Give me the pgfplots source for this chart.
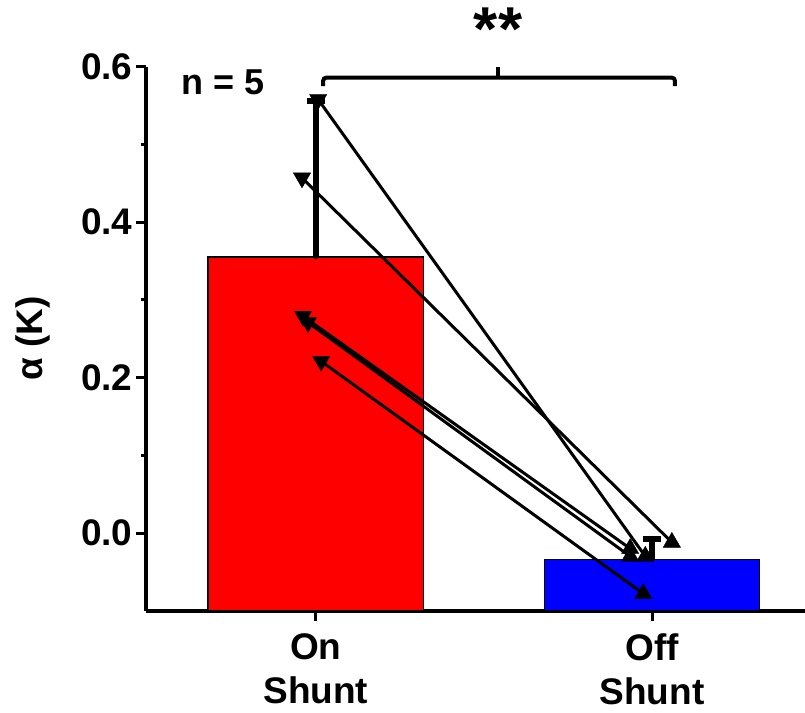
\documentclass[border=0pt]{standalone}
\usepackage{fontspec}
\setmainfont{Liberation Sans}
\usepackage{pgfplots}
\pgfplotsset{compat=1.18}
\begin{document}
\begin{tikzpicture}
\begin{axis}[
  name=ax,
  scale only axis,
  width=659bp, height=543.9bp,
  xmin=-0.505, xmax=1.455,
  ymin=-0.1, ymax=0.6,
  axis lines*=left,
  axis line style={line width=4bp, -},
  clip=false,
  xtick={0,1},
  xticklabels={On\\Shunt, Off\\Shunt},
  xticklabel style={align=center, yshift=-9bp, font=\fontsize{37bp}{44bp}\selectfont\bfseries},
  ytick={0,0.2,0.4,0.6},
  minor ytick={0.1,0.3,0.5},
  yticklabel style={font=\fontsize{37bp}{42bp}\selectfont\bfseries, /pgf/number format/.cd, fixed, fixed zerofill, precision=1, assume math mode=true},
  tick align=outside,
  major tick length=10bp,
  minor tick length=5bp,
  every tick/.style={line width=3bp, black},
  ylabel={α (K)},
  ylabel style={font=\fontsize{37bp}{42bp}\selectfont\bfseries, at={(axis description cs:-0.1715,0.5)}, anchor=center},
]
% bars
\addplot[fill=red, draw=black, line width=1.5bp] coordinates {(-0.32,-0.1) (-0.32,0.355) (0.32,0.355) (0.32,-0.1)} -- cycle;
\addplot[fill=blue, draw=black, line width=1.5bp] coordinates {(0.68,-0.1) (0.68,-0.034) (1.32,-0.034) (1.32,-0.1)} -- cycle;
% paired lines
\addplot[black, line width=3bp] coordinates {(0.007,0.558) (0.980,-0.030)};
\addplot[black, line width=3bp] coordinates {(-0.041,0.457) (1.059,-0.012)};
\addplot[black, line width=3bp] coordinates {(-0.038,0.279) (0.935,-0.020)};
\addplot[black, line width=3bp] coordinates {(-0.023,0.271) (0.935,-0.030)};
\addplot[black, line width=3bp] coordinates {(0.016,0.221) (0.974,-0.078)};
% error bars
\addplot[black, only marks, mark=none, error bars/.cd, y dir=plus, y explicit,
  error bar style={line width=6bp, black},
  error mark options={rotate=90, mark size=9bp, line width=6bp, black}]
  coordinates {(0,0.355) +- (0,0.201) (1,-0.034) +- (0,0.0265)};
% points
\addplot[only marks, mark=triangle*, mark size=10pt, mark options={rotate=180, fill=black, draw=black}]
  coordinates {(0.007,0.558) (-0.041,0.457) (-0.038,0.279) (-0.023,0.271) (0.016,0.221)};
\addplot[only marks, mark=triangle*, mark size=10pt, mark options={fill=black, draw=black}]
  coordinates {(1.059,-0.012) (0.935,-0.020) (0.935,-0.030) (0.980,-0.030) (0.974,-0.078)};
% significance bracket
\addplot[black, line width=4bp, rounded corners=3bp] coordinates {(0.022,0.575) (0.022,0.586) (1.068,0.586) (1.068,0.575)};
\addplot[black, line width=4bp] coordinates {(0.542,0.586) (0.542,0.600)};
\node[font=\fontsize{62bp}{64bp}\selectfont\bfseries] at (axis cs:0.542,0.648) {**};
\node[font=\fontsize{36bp}{40bp}\selectfont\bfseries] at (axis cs:-0.277,0.580) {n = 5};
\end{axis}
\pgfresetboundingbox
\path[use as bounding box] (ax.south west) ++(-146bp,-102.3bp) rectangle ++(805bp,713bp);
\end{tikzpicture}
\end{document}
